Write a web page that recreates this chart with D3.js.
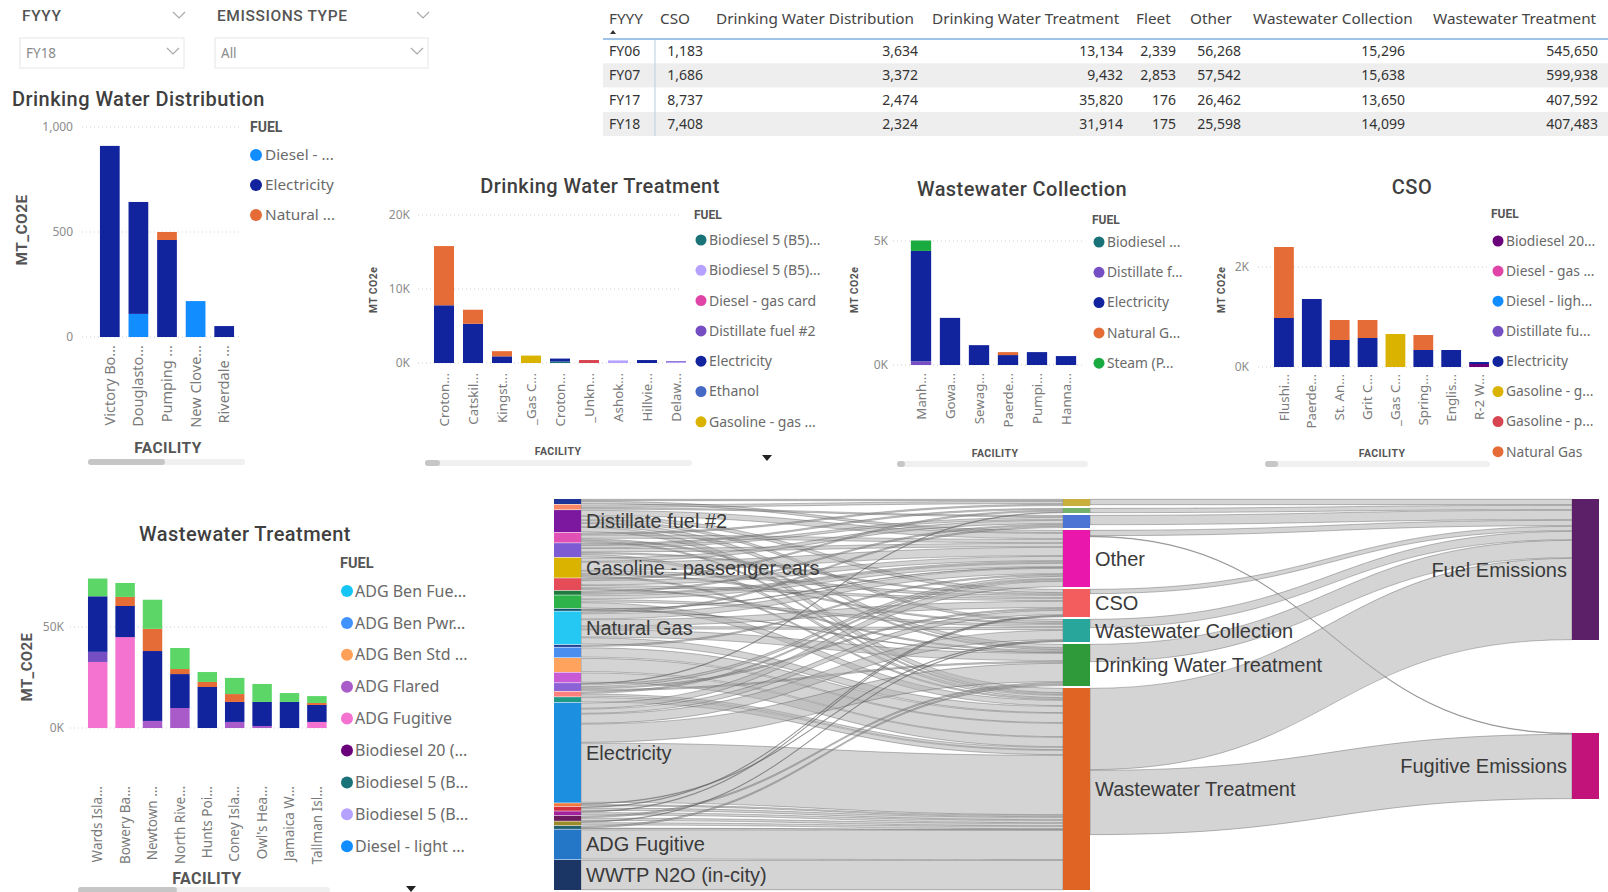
<!DOCTYPE html>
<html>
<head>
<meta charset="utf-8">
<script src="https://cdn.jsdelivr.net/npm/d3@7"></script>
<style>
  html, body { margin: 0; padding: 0; background: #fff; }
  svg { display: block; }
</style>
</head>
<body>
<svg id="dash" width="1608" height="892"></svg>
<script>
// ---------------- data ----------------

// Summary table (MT CO2e by fiscal year)
const tableHeaders = ["FYYY", "CSO", "Drinking Water Distribution", "Drinking Water Treatment", "Fleet", "Other", "Wastewater Collection", "Wastewater Treatment"];
const tableYears = ["FY06", "FY07", "FY17", "FY18"];
const csoTotals = [1183, 1686, 8737, 7408];
const dwdTotals = [3634, 3372, 2474, 2324];
const dwtTotals = [13134, 9432, 35820, 31914];
const fleetTotals = [2339, 2853, 176, 175];
const otherTotals = [56268, 57542, 26462, 25598];
const wcTotals = [15296, 15638, 13650, 14099];
const wtTotals = [545650, 599938, 407592, 407483];

// Drinking Water Distribution
const dwdFacilities = ["Victory Bo...", "Douglasto...", "Pumping ...", "New Clove...", "Riverdale ..."];
const dwdFuels = ["Diesel - ...", "Electricity", "Natural ..."];
const dwdColors = ["#118DFF", "#12239E", "#E66C37"];
const dwdValues = [
  [0, 110, 0, 171, 0],
  [910, 533, 462, 0, 52],
  [0, 0, 38, 0, 0]
];
const dwdTicks = [0, 500, 1000];

// Drinking Water Treatment
const dwtFacilities = ["Croton...", "Catskil...", "Kingst...", "_Gas C...", "Croton...", "_Unkn...", "Ashok...", "Hillvie...", "Delaw..."];
const dwtFuels = ["Biodiesel 5 (B5)...", "Biodiesel 5 (B5)...", "Diesel - gas card", "Distillate fuel #2", "Electricity", "Ethanol", "Gasoline - gas ...", "Gasoline - passenger cars", "Natural Gas"];
const dwtColors = ["#197278", "#B5A1FF", "#E044A7", "#744EC2", "#12239E", "#4668C5", "#D9B300", "#D64550", "#E66C37"];
const dwtValues = [
  [0, 0, 0, 0, 200, 0, 0, 0, 0],
  [0, 0, 0, 0, 0, 0, 350, 0, 150],
  [0, 0, 0, 0, 0, 0, 0, 0, 0],
  [0, 0, 0, 0, 0, 0, 0, 0, 100],
  [7800, 5300, 900, 0, 400, 0, 0, 400, 0],
  [0, 0, 0, 0, 0, 0, 0, 0, 0],
  [0, 0, 0, 1000, 0, 0, 0, 0, 0],
  [0, 0, 0, 0, 0, 400, 0, 0, 0],
  [8000, 1900, 700, 0, 0, 0, 0, 0, 0]
];
const dwtTicks = [0, 10000, 20000];

// Wastewater Collection
const wcFacilities = ["Manh...", "Gowa...", "Sewag...", "Paerde...", "Pumpi...", "Hanna..."];
const wcFuels = ["Biodiesel ...", "Distillate f...", "Electricity", "Natural G...", "Steam (P..."];
const wcColors = ["#197278", "#744EC2", "#12239E", "#E66C37", "#1AAB40"];
const wcValues = [
  [0, 0, 0, 0, 0, 0],
  [150, 0, 0, 0, 0, 0],
  [4450, 1900, 800, 400, 520, 360],
  [0, 0, 0, 120, 0, 0],
  [420, 0, 0, 0, 0, 0]
];
const wcTicks = [0, 5000];

// CSO
const csoFacilities = ["Flushi...", "Paerde...", "St. An...", "Grit C...", "_Gas C...", "Spring...", "Englis...", "R-2 W..."];
const csoFuels = ["Biodiesel 20...", "Diesel - gas ...", "Diesel - ligh...", "Distillate fu...", "Electricity", "Gasoline - g...", "Gasoline - p...", "Natural Gas"];
const csoColors = ["#6B007B", "#E044A7", "#118DFF", "#744EC2", "#12239E", "#D9B300", "#D64550", "#E66C37"];
const csoValues = [
  [0, 0, 0, 0, 0, 0, 0, 60],
  [0, 0, 0, 0, 0, 0, 0, 0],
  [0, 0, 0, 0, 0, 0, 0, 0],
  [0, 0, 0, 0, 0, 0, 0, 0],
  [980, 1360, 540, 580, 0, 340, 340, 40],
  [0, 0, 0, 0, 660, 0, 0, 0],
  [0, 0, 0, 0, 0, 0, 0, 0],
  [1420, 0, 400, 360, 0, 300, 0, 0]
];
const csoTicks = [0, 2000];

// Wastewater Treatment
const wwtFacilities = ["Wards Isla...", "Bowery Ba...", "Newtown ...", "North Rive...", "Hunts Poi...", "Coney Isla...", "Owl's Hea...", "Jamaica W...", "Tallman Isl..."];
const wwtFuels = ["ADG Ben Fue...", "ADG Ben Pwr...", "ADG Ben Std ...", "ADG Flared", "ADG Fugitive", "Biodiesel 20 (...", "Biodiesel 5 (B...", "Biodiesel 5 (B...", "Diesel - light ...", "Distillate fuel #2", "Electricity", "Natural Gas", "Steam (Purchased)"];
const wwtColors = ["#15C6F4", "#4092FF", "#FFA058", "#A95BC9", "#F472D0", "#6B007B", "#197278", "#B5A1FF", "#118DFF", "#744EC2", "#12239E", "#E66C37", "#5BD667"];
const wwtValues = [
  [0, 0, 0, 0, 0, 0, 0, 0, 0],
  [0, 0, 0, 0, 0, 0, 0, 0, 0],
  [0, 0, 0, 0, 0, 0, 0, 0, 0],
  [0, 0, 3500, 9900, 0, 3000, 1000, 0, 0],
  [32700, 45000, 0, 0, 0, 0, 0, 0, 3000],
  [0, 0, 0, 0, 0, 0, 0, 0, 0],
  [0, 0, 0, 0, 0, 0, 0, 0, 0],
  [0, 0, 0, 0, 0, 0, 0, 0, 0],
  [0, 0, 0, 0, 0, 0, 0, 0, 0],
  [5000, 0, 0, 0, 0, 0, 0, 0, 0],
  [27500, 15400, 34600, 16800, 20300, 9900, 11900, 12900, 8400],
  [0, 4500, 11000, 2500, 2500, 3900, 0, 0, 1000],
  [8800, 6900, 14400, 10400, 4900, 8000, 8900, 4400, 3400]
];
const wwtTicks = [0, 50000];

// Sankey: fuel -> sector -> emission type
const fuelNodes = ["Biodiesel 20 (B20)", "Biodiesel 5 (B5) - gas card", "Distillate fuel #2", "Diesel - gas card", "Diesel - light trucks", "Gasoline - passenger cars", "Gasoline - gas card", "Ethanol", "Steam (Purchased)", "Propane", "Natural Gas", "Kerosene", "ADG Ben Pwr", "ADG Ben Std", "ADG Flared", "Biodiesel 5 (B5) - light trucks", "Diesel - heavy trucks", "ADG Ben Fuel", "Electricity", "Gasoline - heavy trucks", "Lubricants", "Refrigerants", "Biodiesel 20 (B20) - heavy trucks", "Landfill Gas", "Diesel - generators", "ADG Fugitive", "WWTP N2O (in-city)"];
const fuelNodeColors = ["#1f3497", "#f98866", "#7b189f", "#e150b5", "#7d5bd3", "#d9b300", "#e64c58", "#1e7b3d", "#2db34a", "#13546e", "#25c8f2", "#26408f", "#4a8ff0", "#ffa35d", "#c85ad6", "#8c63d6", "#ff7f7f", "#1f9985", "#1d8fe1", "#f2793a", "#d32f3f", "#a3229c", "#6b1a5d", "#9b8b2a", "#22616f", "#2476c6", "#1b3565"];
const sectorNodes = ["Fleet", "Buildings", "Drinking Water Distribution", "Other", "CSO", "Wastewater Collection", "Drinking Water Treatment", "Wastewater Treatment"];
const sectorNodeColors = ["#c9b03c", "#74b26c", "#4c74d4", "#ea17ad", "#f45d5d", "#29a69c", "#2f9a3a", "#e06424"];
const emissionNodes = ["Fuel Emissions", "Fugitive Emissions"];
const emissionNodeColors = ["#5b2067", "#c2137a"];

const fuelToSector = [
  ["Biodiesel 20 (B20)", "Fleet", 2], ["Biodiesel 20 (B20)", "Other", 3],
  ["Biodiesel 5 (B5) - gas card", "Fleet", 3], ["Biodiesel 5 (B5) - gas card", "Drinking Water Distribution", 2],
  ["Distillate fuel #2", "Other", 6], ["Distillate fuel #2", "CSO", 4], ["Distillate fuel #2", "Wastewater Collection", 3], ["Distillate fuel #2", "Drinking Water Treatment", 4], ["Distillate fuel #2", "Wastewater Treatment", 5],
  ["Diesel - gas card", "Fleet", 2], ["Diesel - gas card", "Other", 4], ["Diesel - gas card", "Drinking Water Treatment", 2], ["Diesel - gas card", "Wastewater Treatment", 2],
  ["Diesel - light trucks", "Buildings", 2], ["Diesel - light trucks", "Drinking Water Distribution", 3], ["Diesel - light trucks", "Other", 4], ["Diesel - light trucks", "CSO", 2], ["Diesel - light trucks", "Wastewater Treatment", 3],
  ["Gasoline - passenger cars", "Drinking Water Distribution", 4], ["Gasoline - passenger cars", "Other", 9], ["Gasoline - passenger cars", "CSO", 3], ["Gasoline - passenger cars", "Wastewater Collection", 2], ["Gasoline - passenger cars", "Wastewater Treatment", 2],
  ["Gasoline - gas card", "Buildings", 2], ["Gasoline - gas card", "Other", 5], ["Gasoline - gas card", "CSO", 3], ["Gasoline - gas card", "Drinking Water Treatment", 2],
  ["Ethanol", "Drinking Water Distribution", 2], ["Ethanol", "Other", 2],
  ["Steam (Purchased)", "Other", 4], ["Steam (Purchased)", "Wastewater Collection", 3], ["Steam (Purchased)", "Wastewater Treatment", 6],
  ["Propane", "Other", 1], ["Propane", "Drinking Water Treatment", 1],
  ["Natural Gas", "Drinking Water Distribution", 2], ["Natural Gas", "Other", 6], ["Natural Gas", "CSO", 7], ["Natural Gas", "Wastewater Collection", 3], ["Natural Gas", "Drinking Water Treatment", 8], ["Natural Gas", "Wastewater Treatment", 7],
  ["Kerosene", "Other", 2],
  ["ADG Ben Pwr", "Wastewater Treatment", 10],
  ["ADG Ben Std", "Wastewater Treatment", 14],
  ["ADG Flared", "Wastewater Treatment", 10],
  ["Biodiesel 5 (B5) - light trucks", "Buildings", 1], ["Biodiesel 5 (B5) - light trucks", "Other", 3], ["Biodiesel 5 (B5) - light trucks", "CSO", 2], ["Biodiesel 5 (B5) - light trucks", "Drinking Water Treatment", 2],
  ["Diesel - heavy trucks", "Other", 2], ["Diesel - heavy trucks", "Wastewater Treatment", 3],
  ["ADG Ben Fuel", "Wastewater Treatment", 5],
  ["Electricity", "Other", 6], ["Electricity", "CSO", 5], ["Electricity", "Wastewater Collection", 10], ["Electricity", "Drinking Water Treatment", 19], ["Electricity", "Wastewater Treatment", 60],
  ["Gasoline - heavy trucks", "Wastewater Collection", 1], ["Gasoline - heavy trucks", "Wastewater Treatment", 2],
  ["Lubricants", "CSO", 1], ["Lubricants", "Wastewater Treatment", 3],
  ["Refrigerants", "CSO", 1], ["Refrigerants", "Wastewater Treatment", 3],
  ["Biodiesel 20 (B20) - heavy trucks", "Drinking Water Treatment", 2], ["Biodiesel 20 (B20) - heavy trucks", "Wastewater Treatment", 3],
  ["Landfill Gas", "Wastewater Collection", 1], ["Landfill Gas", "Wastewater Treatment", 3],
  ["Diesel - generators", "Drinking Water Treatment", 2], ["Diesel - generators", "Wastewater Treatment", 1],
  ["ADG Fugitive", "Wastewater Treatment", 30],
  ["WWTP N2O (in-city)", "Wastewater Treatment", 30]
];
const sectorToEmission = [
  ["Fleet", "Fuel Emissions", 6],
  ["Buildings", "Fuel Emissions", 5],
  ["Drinking Water Distribution", "Fuel Emissions", 10],
  ["Other", "Fuel Emissions", 6], ["Other", "Fugitive Emissions", 1],
  ["CSO", "Fuel Emissions", 5],
  ["Wastewater Collection", "Fuel Emissions", 9],
  ["Drinking Water Treatment", "Fuel Emissions", 18],
  ["Wastewater Treatment", "Fuel Emissions", 82], ["Wastewater Treatment", "Fugitive Emissions", 65]
];

// ---------------- drawing ----------------
const svg = d3.select("#dash");
const UI = "'Noto Sans', 'Open Sans', sans-serif";
const HEAD = "Roboto, 'Noto Sans', sans-serif";
const ARIAL = "'Liberation Sans', Arial, sans-serif";

function chevron(cx, cy, color) {
  svg.append("path")
    .attr("d", `M${cx - 6},${cy - 3}L${cx},${cy + 3}L${cx + 6},${cy - 3}`)
    .attr("fill", "none").attr("stroke", color).attr("stroke-width", 1.2);
}

function slicer(x, w, title, value) {
  svg.append("text").attr("x", x + 2).attr("y", 16).attr("dy", "0.35em")
    .attr("font-family", HEAD).attr("font-weight", 500).attr("font-size", 15.5)
    .attr("letter-spacing", 0.6).attr("fill", "#555").text(title);
  chevron(x + w - 5, 15, "#aaa");
  svg.append("rect").attr("x", x).attr("y", 38).attr("width", w).attr("height", 30)
    .attr("fill", "#fff").attr("stroke", "#e6e6e6");
  svg.append("text").attr("x", x + 6).attr("y", 53).attr("dy", "0.35em")
    .attr("font-family", UI).attr("font-size", 13.5).attr("fill", "#8a8a8a").text(value);
  chevron(x + w - 11, 51, "#aaa");
}
slicer(20, 164, "FYYY", "FY18");
slicer(215, 213, "EMISSIONS TYPE", "All");

// ---------- table ----------
(function drawTable() {
  const headerX = [609, 660, 716, 932, 1136, 1190, 1253, 1433];
  const valueRight = [null, 703, 918, 1123, 1176, 1241, 1405, 1598];
  const columns = [tableYears, csoTotals, dwdTotals, dwtTotals, fleetTotals, otherTotals, wcTotals, wtTotals];
  const rowY = d3.scalePoint().domain(tableYears).range([51, 124]);
  const fmt = d3.format(",");
  const g = svg.append("g").attr("font-family", UI);
  tableYears.forEach((yr, i) => {
    if (i % 2 === 1) {
      g.append("rect").attr("x", 603).attr("y", rowY(yr) - 12).attr("width", 1005).attr("height", 24).attr("fill", "#eeeeee");
    }
  });
  g.append("line").attr("x1", 603).attr("x2", 1608).attr("y1", 39).attr("y2", 39).attr("stroke", "#7fb0e0").attr("stroke-width", 1.5);
  g.append("line").attr("x1", 655).attr("x2", 655).attr("y1", 40).attr("y2", 136).attr("stroke", "#b9cde3").attr("stroke-width", 1);
  g.selectAll("text.h").data(tableHeaders).join("text")
    .attr("x", (d, i) => headerX[i]).attr("y", 18.5).attr("dy", "0.35em")
    .attr("font-size", 15.3).attr("fill", "#444").text(d => d);
  g.append("path").attr("d", "M610,34L613,30L616,34Z").attr("fill", "#333");
  columns.forEach((col, c) => {
    g.selectAll(null).data(col).join("text")
      .attr("x", c === 0 ? headerX[0] : valueRight[c])
      .attr("text-anchor", c === 0 ? "start" : "end")
      .attr("y", (d, i) => rowY(tableYears[i])).attr("dy", "0.35em")
      .attr("font-size", 14).attr("fill", "#333")
      .text(d => c === 0 ? d : fmt(d));
  });
})();

// ---------- stacked bar panels ----------
function barPanel(p) {
  const g = svg.append("g");
  const n = p.facilities.length;
  const rows = p.facilities.map((_, i) => p.values.map(s => s[i]));
  const series = d3.stack().keys(d3.range(p.fuels.length)).value((d, k) => d[k])(rows);
  const x = d3.scaleBand().domain(d3.range(n)).range(p.xRange).paddingInner(p.pad).paddingOuter(p.pad / 2);
  const top = p.ticks[p.ticks.length - 1];
  const y = d3.scaleLinear().domain([0, top]).range([p.yBase, p.yTop]);

  // title
  g.append("text").attr("x", p.titleX).attr("y", p.titleY).attr("dy", "0.35em")
    .attr("text-anchor", p.titleAnchor || "middle")
    .attr("font-family", HEAD).attr("font-weight", 500).attr("font-size", 20)
    .attr("letter-spacing", 0.45).attr("fill", "#3f3f3f").text(p.title);

  // gridlines
  g.selectAll("line.grid").data(p.ticks).join("line")
    .attr("x1", p.gridX[0]).attr("x2", p.gridX[1])
    .attr("y1", d => y(d)).attr("y2", d => y(d))
    .attr("stroke", "#cfcfcf").attr("stroke-dasharray", "1,3");

  // value axis
  const ya = g.append("g").attr("transform", `translate(${p.tickRight},0)`)
    .call(d3.axisLeft(y).tickValues(p.ticks).tickFormat(p.fmt).tickSize(0).tickPadding(0));
  ya.select(".domain").remove();
  ya.selectAll("text").attr("fill", "#8c8c8c").attr("font-size", p.tickSize).attr("font-family", UI);

  // bars
  g.selectAll("g.series").data(series).join("g")
    .attr("fill", (d, i) => p.colors[i])
    .selectAll("rect").data(d => d.map((v, i) => ({ v, i }))).join("rect")
    .attr("x", d => x(d.i)).attr("width", x.bandwidth())
    .attr("y", d => y(d.v[1])).attr("height", d => Math.max(0, y(d.v[0]) - y(d.v[1])));

  // category axis
  const xa = g.append("g").attr("transform", `translate(0,${p.yBase})`)
    .call(d3.axisBottom(x).tickFormat(i => p.facilities[i]).tickSize(0));
  xa.select(".domain").remove();
  xa.selectAll("text")
    .attr("transform", "rotate(-90)").attr("x", -p.labelGap).attr("y", 0).attr("dy", "0.35em")
    .attr("text-anchor", "end").attr("fill", "#7a7a7a")
    .attr("font-size", p.labelSize).attr("font-family", UI);

  // axis titles
  g.append("text").attr("x", p.xTitle[0]).attr("y", p.xTitle[1]).attr("dy", "0.35em")
    .attr("text-anchor", "middle").attr("font-family", HEAD).attr("font-weight", 700)
    .attr("font-size", p.axisTitleSize).attr("letter-spacing", 0.4).attr("fill", "#555").text("FACILITY");
  g.append("text").attr("transform", `translate(${p.yTitle[0]},${p.yTitle[1]}) rotate(-90)`)
    .attr("dy", "0.35em").attr("text-anchor", "middle").attr("font-family", HEAD).attr("font-weight", 700)
    .attr("font-size", p.yTitleSize || p.axisTitleSize).attr("letter-spacing", 0.4).attr("fill", "#555").text(p.yTitleText);

  // legend
  const lg = g.append("g").attr("transform", `translate(${p.legend.x},0)`);
  lg.append("text").attr("x", p.legend.headX || 0).attr("y", p.legend.headY).attr("dy", "0.35em")
    .attr("font-family", HEAD).attr("font-weight", 700).attr("font-size", p.legend.headSize)
    .attr("fill", "#555").text("FUEL");
  const items = p.fuels.slice(0, p.legend.count);
  const ly = d3.scalePoint().domain(d3.range(items.length)).range([p.legend.y0, p.legend.y0 + p.legend.step * (items.length - 1)]);
  lg.selectAll("circle").data(items).join("circle")
    .attr("cx", p.legend.dotX).attr("cy", (d, i) => ly(i)).attr("r", p.legend.r)
    .attr("fill", (d, i) => p.colors[i]);
  lg.selectAll("text.item").data(items).join("text")
    .attr("x", p.legend.textX).attr("y", (d, i) => ly(i)).attr("dy", "0.35em")
    .attr("font-family", UI).attr("font-size", p.legend.size).attr("fill", "#6a6a6a").text(d => d);

  // scrollbar
  if (p.scroll) {
    g.append("rect").attr("x", p.scroll.x0).attr("y", p.scroll.y - 3).attr("width", p.scroll.x1 - p.scroll.x0)
      .attr("height", 6).attr("rx", 3).attr("fill", "#f0f0f0");
    g.append("rect").attr("x", p.scroll.x0).attr("y", p.scroll.y - 3).attr("width", p.scroll.thumb)
      .attr("height", 6).attr("rx", 3).attr("fill", "#c6c6c6");
  }
  if (p.more) {
    g.append("path").attr("d", `M${p.more[0] - 5},${p.more[1] - 3}L${p.more[0] + 5},${p.more[1] - 3}L${p.more[0]},${p.more[1] + 3}Z`).attr("fill", "#222");
  }
}

const fmtK = d => d / 1000 + "K";

barPanel({
  title: "Drinking Water Distribution", titleX: 12, titleY: 99, titleAnchor: "start",
  facilities: dwdFacilities, fuels: dwdFuels, colors: dwdColors, values: dwdValues,
  ticks: dwdTicks, fmt: d3.format(","), yBase: 337, yTop: 127,
  xRange: [95.5, 238.5], pad: 0.31, gridX: [82, 240], tickRight: 73, tickSize: 12,
  labelGap: 8, labelSize: 14.5, xTitle: [168, 448], yTitle: [22, 230], axisTitleSize: 15.5, yTitleText: "MT_CO2E",
  legend: { x: 250, headY: 127, headSize: 14, y0: 155, step: 30, dotX: 6, r: 6, textX: 15, size: 15.3, count: 3 },
  scroll: { x0: 88, x1: 245, y: 462, thumb: 77 }
});

barPanel({
  title: "Drinking Water Treatment", titleX: 600, titleY: 186,
  facilities: dwtFacilities, fuels: dwtFuels, colors: dwtColors, values: dwtValues,
  ticks: dwtTicks, fmt: fmtK, yBase: 363, yTop: 215,
  xRange: [429.5, 690.5], pad: 0.31, gridX: [418, 680], tickRight: 410, tickSize: 12,
  labelGap: 10, labelSize: 13.3, xTitle: [558, 451], yTitle: [373, 290], axisTitleSize: 10.5, yTitleText: "MT CO2e",
  legend: { x: 694, headY: 215, headSize: 12, y0: 240, step: 30.3, dotX: 7, r: 5.5, textX: 15, size: 14, count: 7 },
  scroll: { x0: 425, x1: 692, y: 463, thumb: 15 }, more: [767, 458]
});

barPanel({
  title: "Wastewater Collection", titleX: 1022, titleY: 189,
  facilities: wcFacilities, fuels: wcFuels, colors: wcColors, values: wcValues,
  ticks: wcTicks, fmt: fmtK, yBase: 365, yTop: 241,
  xRange: [906.5, 1080.5], pad: 0.3, gridX: [893, 1085], tickRight: 888, tickSize: 12,
  labelGap: 8, labelSize: 13.3, xTitle: [995, 453], yTitle: [854, 290], axisTitleSize: 10.5, yTitleText: "MT CO2e",
  legend: { x: 1092, headY: 220, headSize: 12, y0: 242, step: 30.3, dotX: 7, r: 5.5, textX: 15, size: 13.8, count: 5 },
  scroll: { x0: 897, x1: 1088, y: 464, thumb: 8 }
});

barPanel({
  title: "CSO", titleX: 1412, titleY: 187,
  facilities: csoFacilities, fuels: csoFuels, colors: csoColors, values: csoValues,
  ticks: csoTicks, fmt: fmtK, yBase: 367, yTop: 267,
  xRange: [1270, 1493], pad: 0.29, gridX: [1258, 1490], tickRight: 1249, tickSize: 12,
  labelGap: 7, labelSize: 13.3, xTitle: [1382, 453], yTitle: [1221, 290], axisTitleSize: 10.5, yTitleText: "MT CO2e",
  legend: { x: 1488, headX: 3, headY: 214, headSize: 12, y0: 241, step: 30.1, dotX: 10, r: 5.5, textX: 18, size: 13.8, count: 8 },
  scroll: { x0: 1265, x1: 1490, y: 464, thumb: 13 }
});

barPanel({
  title: "Wastewater Treatment", titleX: 245, titleY: 534,
  facilities: wwtFacilities, fuels: wwtFuels, colors: wwtColors, values: wwtValues,
  ticks: wwtTicks, fmt: fmtK, yBase: 728, yTop: 627,
  xRange: [84, 330.6], pad: 0.29, gridX: [70, 330], tickRight: 64, tickSize: 12,
  labelGap: 58, labelSize: 13.5, xTitle: [207, 878], yTitle: [27, 667], axisTitleSize: 16, yTitleSize: 15, yTitleText: "MT_CO2E",
  legend: { x: 340, headY: 563, headSize: 14.5, y0: 591, step: 31.9, dotX: 7, r: 6, textX: 15, size: 16, count: 9 },
  scroll: { x0: 78, x1: 330, y: 890, thumb: 99 }, more: [411, 889]
});

// ---------- sankey ----------
(function drawSankey() {
  const sk = { top: 499, bottom: 890, colX: [554, 1063, 1572], nodeW: 27, sectorPad: 2, emissionGap: 93, labelMin: 20, gap: 0.35 };
  const cols = [
    fuelNodes.map((name, i) => ({ name, col: 0, idx: i, color: fuelNodeColors[i] })),
    sectorNodes.map((name, i) => ({ name, col: 1, idx: i, color: sectorNodeColors[i] })),
    emissionNodes.map((name, i) => ({ name, col: 2, idx: i, color: emissionNodeColors[i] }))
  ];
  const nodes = cols.flat();
  const byName = new Map(nodes.map(n => [n.name, n]));
  const links = fuelToSector.concat(sectorToEmission)
    .map(([s, t, v]) => ({ source: byName.get(s), target: byName.get(t), value: v }));
  nodes.forEach(n => {
    n.out = links.filter(l => l.source === n).sort((a, b) => a.target.idx - b.target.idx);
    n.inn = links.filter(l => l.target === n).sort((a, b) => a.source.idx - b.source.idx);
    n.value = Math.max(d3.sum(n.out, l => l.value), d3.sum(n.inn, l => l.value));
  });
  const span = sk.bottom - sk.top;
  const total = d3.sum(cols[0], n => n.value);
  const k = d3.scaleLinear().domain([0, total]).range([0, span - (sectorNodes.length - 1) * sk.sectorPad]);
  const pads = [(span - k(total)) / (fuelNodes.length - 1), sk.sectorPad, sk.emissionGap];
  cols.forEach((col, c) => {
    let y = sk.top;
    col.forEach(n => {
      n.x0 = sk.colX[c]; n.x1 = n.x0 + sk.nodeW;
      n.y0 = y; n.y1 = y + k(n.value); y = n.y1 + pads[c];
    });
  });
  nodes.forEach(n => {
    let sy = n.y0;
    n.out.forEach(l => { l.sy0 = sy; sy += k(l.value); l.sy1 = sy; });
    let ty = n.y0;
    n.inn.forEach(l => { l.ty0 = ty; ty += k(l.value); l.ty1 = ty; });
  });
  // each link is a ribbon, trimmed slightly so neighbouring links stay separated
  const ribbon = l => {
    const x0 = l.source.x1, x1 = l.target.x0, xm = (x0 + x1) / 2;
    const g = Math.min(sk.gap, (l.sy1 - l.sy0) / 4);
    const a0 = l.sy0 + g, a1 = l.ty0 + g, b0 = l.sy1 - g, b1 = l.ty1 - g;
    return `M${x0},${a0}C${xm},${a0} ${xm},${a1} ${x1},${a1}` +
      `L${x1},${b1}C${xm},${b1} ${xm},${b0} ${x0},${b0}Z`;
  };
  const g = svg.append("g");
  g.append("g").selectAll("path").data(links).join("path")
    .attr("d", ribbon)
    .attr("fill", "#b0b0b0").attr("fill-opacity", 0.55)
    .attr("stroke", "#484848").attr("stroke-opacity", 0.42).attr("stroke-width", 0.85);
  g.append("g").selectAll("rect").data(nodes).join("rect")
    .attr("x", n => n.x0).attr("y", n => n.y0)
    .attr("width", sk.nodeW).attr("height", n => Math.max(1, n.y1 - n.y0))
    .attr("fill", n => n.color);
  g.append("g").selectAll("text").data(nodes.filter(n => n.value >= sk.labelMin)).join("text")
    .attr("x", n => n.col === 2 ? n.x0 - 5 : n.x1 + 5)
    .attr("y", n => (n.y0 + n.y1) / 2).attr("dy", "0.35em")
    .attr("text-anchor", n => n.col === 2 ? "end" : "start")
    .attr("font-family", ARIAL).attr("font-size", 20).attr("fill", "#3a3a3a")
    .text(n => n.name);
})();
</script>
</body>
</html>
